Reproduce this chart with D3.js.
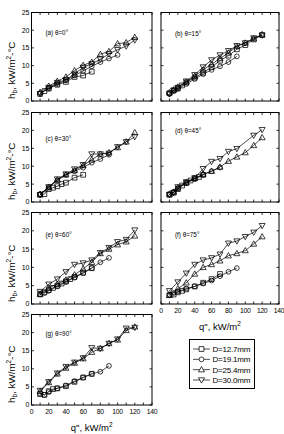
<!DOCTYPE html>
<html><head><meta charset="utf-8">
<script src="https://cdn.jsdelivr.net/npm/d3@7"></script>
<style>html,body{margin:0;padding:0;background:#fff;} svg{display:block;font-family:"Liberation Sans",Arial,sans-serif;}</style>
</head><body>
<script>
// ---------------- data ----------------
const seriesNames = ["D=12.7mm", "D=19.1mm", "D=25.4mm", "D=30.0mm"];
const panelLabels = ["(a) θ=0°", "(b) θ=15°", "(c) θ=30°", "(d) θ=45°", "(e) θ=60°", "(f) θ=75°", "(g) θ=90°"];
const xTicks = [0, 20, 40, 60, 80, 100, 120, 140];
const xMinorTicks = [0, 10, 20, 30, 40, 50, 60, 70, 80, 90, 100, 110, 120, 130, 140];
const yTicks = [0, 5, 10, 15, 20, 25];

// (a) theta = 0
const a_q127 = [10, 15, 20, 30, 40, 50, 60, 70];
const a_h127 = [2.0, 2.8, 3.5, 4.6, 5.4, 6.8, 7.2, 8.3];
const a_q191 = [10, 20, 30, 40, 50, 60, 70, 80, 90, 100];
const a_h191 = [2.2, 3.6, 4.8, 5.8, 7.2, 8.5, 9.8, 11.0, 12.0, 13.0];
const a_q254 = [10, 20, 30, 40, 50, 60, 70, 80, 90, 100, 110, 120];
const a_h254 = [2.5, 4.2, 5.6, 6.8, 8.6, 10.1, 11.0, 13.2, 14.0, 16.2, 16.5, 18.0];
const a_q300 = [10, 20, 30, 40, 50, 60, 70, 80, 90, 100, 110, 120];
const a_h300 = [2.0, 3.8, 5.2, 6.0, 7.6, 9.5, 10.5, 11.8, 13.3, 14.5, 15.5, 17.2];
// (b) theta = 15
const b_q127 = [10, 15, 20, 25, 30, 40, 50, 60, 70, 80, 90, 100, 110, 120];
const b_h127 = [2.2, 3.0, 3.6, 4.4, 5.2, 6.6, 8.0, 9.6, 11.4, 12.8, 14.6, 15.8, 17.4, 18.6];
const b_q191 = [10, 15, 20, 30, 40, 50, 60, 70, 80, 90];
const b_h191 = [2.0, 2.8, 3.4, 4.8, 6.2, 7.6, 8.8, 9.8, 11.0, 12.6];
const b_q254 = [10, 15, 20, 30, 40, 50, 60, 70, 80, 90, 100, 110, 120];
const b_h254 = [2.4, 3.2, 4.0, 5.4, 7.0, 8.8, 10.4, 12.0, 13.6, 15.4, 16.4, 17.6, 18.8];
const b_q300 = [10, 15, 20, 30, 40, 50, 60, 70, 80, 90, 100, 110, 120];
const b_h300 = [2.0, 3.0, 3.8, 5.6, 7.4, 9.6, 11.6, 13.0, 14.2, 15.6, 16.4, 17.8, 18.6];
// (c) theta = 30
const c_q127 = [10, 15, 20, 25, 30, 35, 40, 50, 60];
const c_h127 = [2.0, 2.2, 3.6, 4.0, 4.4, 5.0, 5.4, 6.8, 7.6];
const c_q191 = [10, 20, 30, 40, 50, 60, 70, 80, 90];
const c_h191 = [2.2, 4.2, 6.0, 7.6, 8.6, 9.6, 11.0, 12.0, 13.2];
const c_q254 = [10, 20, 30, 40, 50, 60, 70, 80, 90, 100, 110, 120];
const c_h254 = [2.2, 4.0, 6.2, 7.6, 8.8, 10.2, 11.8, 13.4, 13.8, 15.2, 16.8, 19.4];
const c_q300 = [10, 20, 30, 40, 50, 60, 70, 80, 90, 100, 110, 120];
const c_h300 = [2.0, 4.2, 6.4, 7.8, 9.2, 10.4, 13.4, 13.4, 13.6, 15.4, 16.8, 18.2];
// (d) theta = 45
const d_q127 = [10, 15, 20, 25, 30, 35, 40, 45, 50];
const d_h127 = [2.0, 2.6, 3.6, 4.6, 5.4, 6.0, 6.6, 7.0, 7.6];
const d_q191 = [10, 15, 20, 30, 40, 50, 60, 70];
const d_h191 = [2.2, 2.8, 3.8, 5.2, 6.4, 7.6, 8.6, 9.6];
const d_q254 = [10, 15, 20, 30, 40, 50, 60, 70, 80, 90, 100, 110, 120];
const d_h254 = [2.2, 2.8, 4.0, 5.4, 6.6, 7.8, 8.6, 9.8, 11.4, 12.6, 13.8, 15.8, 18.0];
const d_q300 = [10, 15, 20, 30, 40, 50, 60, 70, 80, 90, 110, 120];
const d_h300 = [2.1, 2.6, 4.2, 5.6, 6.7, 9.3, 11.3, 12.1, 14.1, 14.9, 18.6, 20.2];
// (e) theta = 60
const e_q127 = [10, 15, 20, 25, 30, 35, 40, 45, 50, 60, 70];
const e_h127 = [2.8, 3.2, 3.8, 4.4, 5.0, 5.6, 6.2, 6.8, 7.4, 8.6, 9.8];
const e_q191 = [10, 15, 20, 30, 40, 50, 60, 70, 80, 90];
const e_h191 = [2.6, 3.0, 3.6, 4.8, 6.0, 7.2, 8.4, 9.8, 11.4, 12.6];
const e_q254 = [10, 20, 30, 40, 50, 60, 70, 80, 90, 100, 110, 120];
const e_h254 = [2.6, 4.4, 5.4, 6.6, 8.0, 9.6, 11.4, 13.8, 15.0, 16.2, 17.0, 18.6];
const e_q300 = [10, 20, 30, 40, 50, 60, 70, 80, 90, 100, 110, 120];
const e_h300 = [3.4, 5.4, 6.8, 8.8, 10.8, 11.2, 12.0, 14.0, 15.4, 17.0, 17.6, 20.2];
// (f) theta = 75
const f_q127 = [10, 15, 20, 25, 30, 40, 50, 60, 70];
const f_h127 = [2.4, 2.6, 3.2, 3.6, 4.0, 4.8, 5.8, 6.8, 8.2];
const f_q191 = [10, 15, 20, 30, 40, 50, 60, 70, 80, 90];
const f_h191 = [2.6, 3.0, 3.4, 4.2, 4.8, 5.6, 6.4, 7.6, 8.8, 9.8];
const f_q254 = [10, 20, 30, 40, 50, 60, 70, 80, 90, 100, 110, 120];
const f_h254 = [2.4, 4.2, 5.8, 8.2, 10.0, 10.8, 11.8, 13.2, 13.8, 14.6, 16.4, 18.4];
const f_q300 = [10, 20, 30, 40, 50, 60, 70, 80, 90, 100, 110, 120];
const f_h300 = [3.6, 6.0, 8.4, 10.8, 12.0, 12.6, 13.6, 16.6, 17.2, 18.4, 19.6, 21.4];
// (g) theta = 90
const g_q127 = [10, 15, 20, 25, 30, 40, 50, 60, 70];
const g_h127 = [3.0, 2.8, 3.8, 4.4, 4.6, 5.2, 6.4, 7.6, 8.6];
const g_q191 = [10, 15, 20, 30, 40, 50, 60, 70, 80, 90];
const g_h191 = [3.2, 2.8, 3.6, 4.6, 5.4, 6.6, 7.6, 8.6, 9.2, 10.8];
const g_q254 = [10, 20, 30, 40, 50, 60, 70, 80, 90, 100, 110, 120];
const g_h254 = [3.8, 6.2, 8.6, 10.2, 11.6, 12.8, 14.6, 15.6, 17.0, 18.0, 20.6, 21.6];
const g_q300 = [10, 20, 30, 40, 50, 60, 70, 80, 90, 100, 110, 120];
const g_h300 = [4.0, 6.4, 8.8, 10.6, 11.8, 13.0, 15.8, 15.6, 17.0, 18.2, 21.2, 21.4];

const panelData = [
  [[a_q127, a_h127], [a_q191, a_h191], [a_q254, a_h254], [a_q300, a_h300]],
  [[b_q127, b_h127], [b_q191, b_h191], [b_q254, b_h254], [b_q300, b_h300]],
  [[c_q127, c_h127], [c_q191, c_h191], [c_q254, c_h254], [c_q300, c_h300]],
  [[d_q127, d_h127], [d_q191, d_h191], [d_q254, d_h254], [d_q300, d_h300]],
  [[e_q127, e_h127], [e_q191, e_h191], [e_q254, e_h254], [e_q300, e_h300]],
  [[f_q127, f_h127], [f_q191, f_h191], [f_q254, f_h254], [f_q300, f_h300]],
  [[g_q127, g_h127], [g_q191, g_h191], [g_q254, g_h254], [g_q300, g_h300]]
];

// ---------------- layout ----------------
const W = 284, H = 434;
const colX = [31.5, 161];
const colW = [120.5, 118];
const rowTop = [12.5, 112.5, 212.5, 314.5];
const rowBot = [101, 202, 304, 405];
const labelDy = [20.5, 21, 26, 18, 22, 22, 19];

const svg = d3.select("body").append("svg").attr("width", W).attr("height", H);

function markerPath(kind) {
  if (kind === 0) return "M-2.4,-2.4H2.4V2.4H-2.4Z";
  if (kind === 1) return d3.symbol(d3.symbolCircle, 18)();
  if (kind === 2) return "M0,-3.1L3,2.2L-3,2.2Z";
  return "M0,3.1L3,-2.2L-3,-2.2Z";
}

panelData.forEach((series, i) => {
  const col = i % 2, row = Math.floor(i / 2);
  const x0 = colX[col], x1 = colX[col] + colW[col];
  const y0 = rowTop[row], y1 = rowBot[row];
  const x = d3.scaleLinear().domain([0, 140]).range([x0, x1]);
  const y = d3.scaleLinear().domain([0, 25]).range([y1, y0]);
  const g = svg.append("g");

  // ticks (inward on all sides)
  const tl = 2.5;
  g.selectAll(".xtb").data(xMinorTicks).enter().append("line")
    .attr("x1", d => x(d)).attr("x2", d => x(d)).attr("y1", y1).attr("y2", y1 - tl)
    .attr("stroke", "#000").attr("stroke-width", 0.8);
  g.selectAll(".xtt").data(xMinorTicks).enter().append("line")
    .attr("x1", d => x(d)).attr("x2", d => x(d)).attr("y1", y0).attr("y2", y0 + tl)
    .attr("stroke", "#000").attr("stroke-width", 0.8);
  g.selectAll(".ytl").data(yTicks).enter().append("line")
    .attr("x1", x0).attr("x2", x0 + tl).attr("y1", d => y(d)).attr("y2", d => y(d))
    .attr("stroke", "#000").attr("stroke-width", 0.8);
  g.selectAll(".ytr").data(yTicks).enter().append("line")
    .attr("x1", x1).attr("x2", x1 - tl).attr("y1", d => y(d)).attr("y2", d => y(d))
    .attr("stroke", "#000").attr("stroke-width", 0.8);

  g.append("rect").attr("x", x0).attr("y", y0).attr("width", x1 - x0).attr("height", y1 - y0)
    .attr("fill", "none").attr("stroke", "#000").attr("stroke-width", 1);

  if (col === 0) {
    g.selectAll(".yl").data(yTicks).enter().append("text")
      .attr("x", x0 - 2.5).attr("y", d => y(d) + 2.4).attr("text-anchor", "end")
      .attr("font-size", 7).attr("letter-spacing", -0.3).text(d => d);
    const t = g.append("text")
      .attr("transform", `translate(14.5,${y1 - 2}) rotate(-90)`)
      .attr("font-size", 9.8).attr("text-anchor", "start");
    t.append("tspan").text("h");
    t.append("tspan").attr("font-size", 6.5).attr("dy", 2).text("b");
    t.append("tspan").attr("dy", -2).text(", kW/m");
    t.append("tspan").attr("font-size", 6.5).attr("dy", -4).text("2");
    t.append("tspan").attr("dy", 4).text("-°C");
  }
  if (i >= 5) {
    g.selectAll(".xl").data(xTicks).enter().append("text")
      .attr("x", d => x(d)).attr("y", y1 + 8.5).attr("text-anchor", "middle")
      .attr("font-size", 6.8).attr("letter-spacing", -0.3).text(d => d);
    const t = g.append("text").attr("x", (x0 + x1) / 2).attr("y", y1 + 26)
      .attr("text-anchor", "middle").attr("font-size", 9.5);
    t.append("tspan").text("q\", kW/m");
    t.append("tspan").attr("font-size", 6.5).attr("dy", -4).text("2");
  }

  g.append("text").attr("x", x0 + 14).attr("y", y0 + labelDy[i] + 2)
    .attr("font-size", 6.3).text(panelLabels[i]);

  const line = d3.line().x(d => x(d[0])).y(d => y(d[1]));
  series.forEach((s, k) => {
    const pts = s[0].map((q, j) => [q, s[1][j]]);
    g.append("path").attr("d", line(pts)).attr("fill", "none")
      .attr("stroke", "#000").attr("stroke-width", 0.7);
    g.selectAll(null).data(pts).enter().append("path")
      .attr("d", markerPath(k))
      .attr("transform", d => `translate(${x(d[0])},${y(d[1])})`)
      .attr("fill", "#fff").attr("fill-opacity", 0).attr("stroke", "#000").attr("stroke-width", 0.75);
  });
});

// legend
const lg = svg.append("g");
lg.append("rect").attr("x", 189.5).attr("y", 339.5).attr("width", 65).attr("height", 49)
  .attr("fill", "#fff").attr("stroke", "#000").attr("stroke-width", 1);
const legY = d3.scaleLinear().domain([0, 3]).range([349, 380]);
seriesNames.forEach((name, k) => {
  const yy = legY(k);
  lg.append("line").attr("x1", 193).attr("x2", 210).attr("y1", yy).attr("y2", yy)
    .attr("stroke", "#000").attr("stroke-width", 0.7);
  lg.append("path").attr("d", markerPath(k)).attr("transform", `translate(201.5,${yy})`)
    .attr("fill", "#fff").attr("stroke", "#000").attr("stroke-width", 0.75);
  lg.append("text").attr("x", 212.5).attr("y", yy + 2.9).attr("font-size", 8)
    .attr("letter-spacing", -0.2).text(name);
});
</script>
</body></html>
